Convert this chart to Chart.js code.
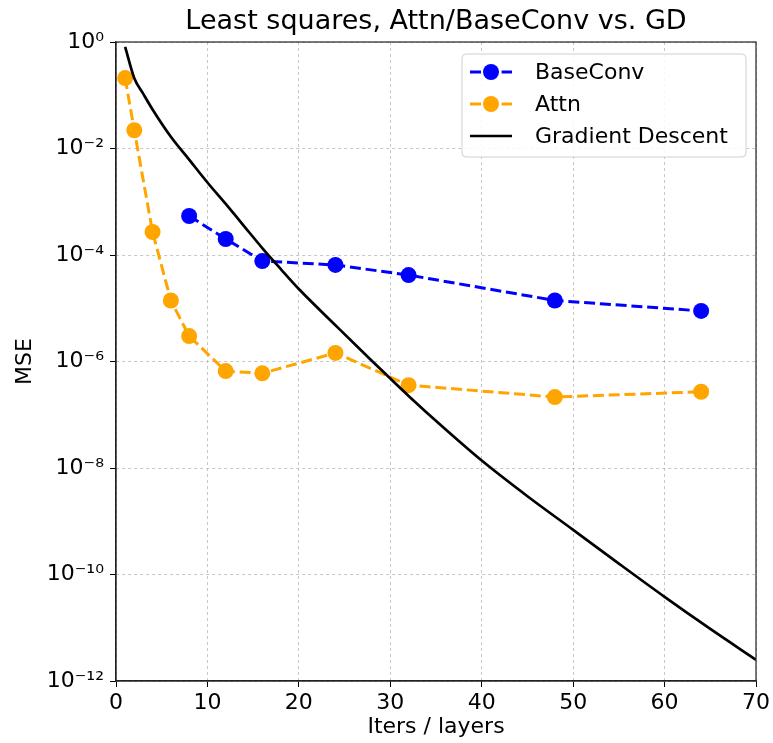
<!DOCTYPE html>
<html>
<head>
<meta charset="utf-8">
<script src="https://cdn.jsdelivr.net/npm/chart.js@4/dist/chart.umd.min.js"></script>
<style>
  body { margin: 0; background: #fff; }
  canvas { display: block; }
</style>
</head>
<body>
<canvas id="chart" width="773" height="743"></canvas>
<script>
// values
const baseConvIters = [8, 12, 16, 24, 32, 48, 64];
const baseConvMse = [5.4e-4, 2.0e-4, 7.7e-5, 6.5e-5, 4.2e-5, 1.4e-5, 8.9e-6];

const attnIters = [1, 2, 4, 6, 8, 12, 16, 24, 32, 48, 64];
const attnMse = [0.21, 0.022, 2.7e-4, 1.4e-5, 3.0e-6, 6.6e-7, 6.0e-7, 1.45e-6, 3.6e-7, 2.15e-7, 2.7e-7];

const gdIters = [1, 2, 3, 4, 6, 8, 10, 12, 14, 16, 18, 20, 24, 28, 30, 32, 36, 40, 45, 50, 55, 60, 65, 70];
const gdMse = [0.81, 0.209, 0.105, 0.054, 0.0166, 6.2e-3, 2.3e-3, 9.1e-4, 3.5e-4, 1.35e-4, 5.5e-5, 2.3e-5,
               4.8e-6, 1.02e-6, 4.8e-7, 2.26e-7, 5.4e-8, 1.38e-8, 2.95e-9, 6.9e-10, 1.6e-10, 3.8e-11, 9.5e-12, 2.5e-12];

const yTickExps = [0, -2, -4, -6, -8, -10, -12];

const BLUE = "#0000ff";
const ORANGE = "#ffa500";
const FONT = "'DejaVu Sans', sans-serif";
const DASH = [11, 4.8];

const sup = { "0": "⁰", "1": "¹", "2": "²", "3": "³", "4": "⁴", "5": "⁵", "6": "⁶", "7": "⁷", "8": "⁸", "9": "⁹", "-": "⁻" };

function toPoints(xs, ys) {
    return xs.map((x, i) => ({ x: x, y: ys[i] }));
}

const legendItems = [
    { label: "BaseConv", color: BLUE, marker: true },
    { label: "Attn", color: ORANGE, marker: true },
    { label: "Gradient Descent", color: "#000", marker: false }
];

const decorPlugin = {
    id: "decor",
    beforeDraw(chart) {
        const ctx = chart.ctx;
        ctx.save();
        ctx.fillStyle = "#fff";
        ctx.fillRect(0, 0, chart.width, chart.height);
        ctx.restore();
    },
    afterDraw(chart) {
        const ctx = chart.ctx;
        const a = chart.chartArea;

        // frame round the plot
        ctx.save();
        ctx.strokeStyle = "#222";
        ctx.lineWidth = 1.2;
        ctx.strokeRect(a.left, a.top, a.right - a.left, a.bottom - a.top);

        // title
        ctx.fillStyle = "#000";
        ctx.font = "27px " + FONT;
        ctx.textAlign = "center";
        ctx.textBaseline = "middle";
        ctx.fillText("Least squares, Attn/BaseConv vs. GD", (a.left + a.right) / 2, 22);

        // legend
        const bx = 462, by = 54, bw = 284, bh = 103;
        ctx.beginPath();
        ctx.roundRect(bx, by, bw, bh, 4);
        ctx.fillStyle = "rgba(255,255,255,0.85)";
        ctx.fill();
        ctx.strokeStyle = "#d0d0d0";
        ctx.lineWidth = 1;
        ctx.stroke();

        legendItems.forEach((item, i) => {
            const y = 72 + i * 32;
            ctx.strokeStyle = item.color;
            ctx.lineWidth = item.marker ? 3 : 2.7;
            ctx.setLineDash(item.marker ? DASH : []);
            ctx.beginPath();
            ctx.moveTo(470, y);
            ctx.lineTo(512, y);
            ctx.stroke();
            ctx.setLineDash([]);
            if (item.marker) {
                ctx.fillStyle = item.color;
                ctx.beginPath();
                ctx.arc(491, y, 8, 0, Math.PI * 2);
                ctx.fill();
            }
            ctx.fillStyle = "#000";
            ctx.font = "22px " + FONT;
            ctx.textAlign = "left";
            ctx.textBaseline = "middle";
            ctx.fillText(item.label, 535, y + 1);
        });
        ctx.restore();
    }
};

new Chart(document.getElementById("chart"), {
    type: "line",
    data: {
        datasets: [
            {
                label: "BaseConv",
                data: toPoints(baseConvIters, baseConvMse),
                borderColor: BLUE,
                backgroundColor: BLUE,
                borderWidth: 3,
                borderDash: DASH,
                pointRadius: 8,
                pointHoverRadius: 8,
                pointBorderWidth: 0,
                order: 2
            },
            {
                label: "Attn",
                data: toPoints(attnIters, attnMse),
                borderColor: ORANGE,
                backgroundColor: ORANGE,
                borderWidth: 3,
                borderDash: DASH,
                pointRadius: 8,
                pointHoverRadius: 8,
                pointBorderWidth: 0,
                order: 1
            },
            {
                label: "Gradient Descent",
                data: toPoints(gdIters, gdMse),
                borderColor: "#000",
                borderWidth: 2.7,
                pointRadius: 0,
                cubicInterpolationMode: "monotone",
                order: 0
            }
        ]
    },
    options: {
        responsive: false,
        animation: false,
        devicePixelRatio: 1,
        layout: { padding: { left: 0, right: 15, top: 42, bottom: 0 } },
        plugins: {
            legend: { display: false },
            title: { display: false },
            tooltip: { enabled: false }
        },
        scales: {
            x: {
                type: "linear",
                min: 0,
                max: 70,
                ticks: {
                    stepSize: 10,
                    color: "#000",
                    padding: 3,
                    font: { family: FONT, size: 22 }
                },
                grid: {
                    color: "#b8b8b8",
                    lineWidth: 0.8,
                    tickLength: 6,
                    tickColor: "#000",
                    tickWidth: 1
                },
                border: { color: "#222", width: 1.2, dash: [3, 3] },
                title: {
                    display: true,
                    text: "Iters / layers",
                    color: "#000",
                    padding: { top: 0, bottom: 3 },
                    font: { family: FONT, size: 22 }
                },
                afterFit(scale) {
                    scale.height = 62;
                }
            },
            y: {
                type: "logarithmic",
                min: 1e-12,
                max: 1,
                afterBuildTicks(scale) {
                    scale.ticks = yTickExps.map(e => ({ value: Math.pow(10, e) }));
                },
                ticks: {
                    autoSkip: false,
                    color: "#000",
                    padding: 6,
                    font: { family: FONT, size: 22 },
                    callback(value) {
                        const e = String(Math.round(Math.log10(value)));
                        return "10" + e.split("").map(c => sup[c]).join("");
                    }
                },
                grid: {
                    color: "#b8b8b8",
                    lineWidth: 0.8,
                    tickLength: 6,
                    tickColor: "#000",
                    tickWidth: 1
                },
                border: { color: "#222", width: 1.2, dash: [3, 3] },
                title: {
                    display: true,
                    text: "MSE",
                    color: "#000",
                    padding: { top: 12, bottom: 0 },
                    font: { family: FONT, size: 22 }
                },
                afterFit(scale) {
                    scale.width = 116;
                }
            }
        }
    },
    plugins: [decorPlugin]
});
</script>
</body>
</html>
